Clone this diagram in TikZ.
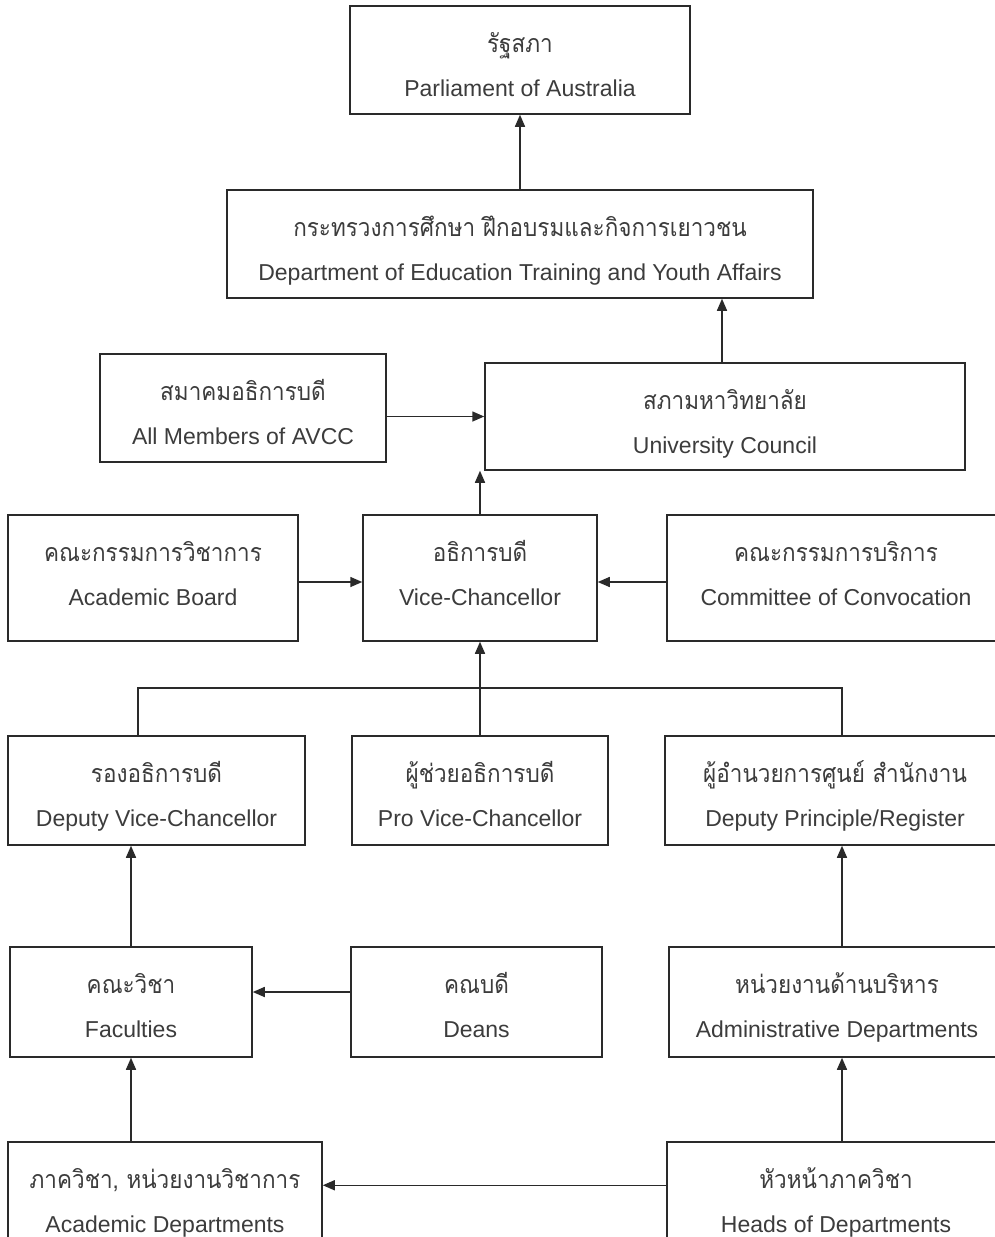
\documentclass[tikz,border=0pt]{standalone}
\usepackage{fontspec}
\setmainfont{Liberation Sans}
\newfontfamily\thaifont[Script=Thai,FakeStretch=0.9]{Loma}
\usetikzlibrary{arrows.meta,calc}
\definecolor{linegray}{HTML}{2A2A2A}
\definecolor{textgray}{HTML}{3C3C3C}

% box with a Thai title and an English title, placed from its corners
\newcommand\orgbox[7]{%
  \pgfmathsetmacro\obw{#4-#2}%
  \pgfmathsetmacro\obh{#5-#3}%
  \node[orgframe, minimum width=\obw pt, minimum height=\obh pt] (#1) at ({(#2+#4)/2},{(#3+#5)/2}) {};
  \node[thaitext] (#1-th) at ([yshift=-47pt]#1.north) {#6};
  \node[engtext] (#1-en) at ([yshift=-91pt]#1.north) {#7};
}

\begin{document}
\begin{tikzpicture}[x=1pt,y=-1pt,
  orgframe/.style={draw=linegray, line width=1.5pt, inner sep=0pt},
  thaitext/.style={anchor=base, inner sep=0pt, text=textgray, font=\thaifont\fontsize{25}{29}\selectfont},
  engtext/.style={anchor=base, inner sep=0pt, text=textgray, font=\fontsize{23}{27}\selectfont},
  link/.style={draw=linegray, line width=1.5pt},
  arr/.style={link, -{Triangle[length=12pt,width=10pt]}}]

\useasboundingbox (0,0) rectangle (995,1237);
\fill[white] (0,0) rectangle (995,1237);
\clip (0,0) rectangle (995,1237);

% top of the hierarchy
\orgbox{par}{350}{6}{690}{114}{รัฐสภา}{Parliament of Australia}
\orgbox{dept}{227}{190}{813}{298}{กระทรวงการศึกษา ฝึกอบรมและกิจการเยาวชน}{Department of Education Training and Youth Affairs}
\orgbox{avcc}{100}{354}{386}{462}{สมาคมอธิการบดี}{All Members of AVCC}
\orgbox{uc}{485}{363}{965}{470}{สภามหาวิทยาลัย}{University Council}

% university leadership
\orgbox{ab}{8}{515}{298}{641}{คณะกรรมการวิชาการ}{Academic Board}
\orgbox{vc}{363}{515}{597}{641}{อธิการบดี}{Vice-Chancellor}
\orgbox{com}{667}{515}{1005}{641}{คณะกรรมการบริการ}{Committee of Convocation}

\orgbox{dvc}{8}{736}{305}{845}{รองอธิการบดี}{Deputy Vice-Chancellor}
\orgbox{pvc}{352}{736}{608}{845}{ผู้ช่วยอธิการบดี}{Pro Vice-Chancellor}
\orgbox{dpr}{665}{736}{1005}{845}{ผู้อำนวยการศูนย์ สำนักงาน}{Deputy Principle/Register}

% faculties and departments
\orgbox{fac}{10}{947}{252}{1057}{คณะวิชา}{Faculties}
\orgbox{deans}{351}{947}{602}{1057}{คณบดี}{Deans}
\orgbox{adm}{669}{947}{1005}{1057}{หน่วยงานด้านบริหาร}{Administrative Departments}

\orgbox{ad}{8}{1142}{322}{1260}{ภาควิชา, หน่วยงานวิชาการ}{Academic Departments}
\orgbox{hd}{667}{1142}{1005}{1260}{หัวหน้าภาควิชา}{Heads of Departments}

% bus joining the three deputies
\coordinate (busL) at (138,688);
\coordinate (busR) at (842,688);

% connectors
\draw[arr] (dept.north) -- (par.south);
\draw[arr] ([xshift=-3pt]uc.north) -- ([xshift=-3pt]uc.north |- dept.south);
\draw[arr] (avcc.east |- uc.west) -- (uc.west);
\draw[arr] (vc.north) -- (vc.north |- uc.south);
\draw[arr] ([yshift=-4pt]ab.east) -- ([yshift=-4pt]vc.west);
\draw[arr] ([yshift=-4pt]com.west) -- ([yshift=-4pt]vc.east);
\draw[link] (dvc.north -| busL) -- (busL) -- (busR) -- (dpr.north -| busR);
\draw[arr] (pvc.north) -- (vc.south);
\draw[arr] (fac.north) -- (fac.north |- dvc.south);
\draw[arr] ([yshift=10pt]deans.west) -- ([yshift=10pt]deans.west -| fac.east);
\draw[arr] (adm.north -| busR) -- (dpr.south -| busR);
\draw[arr] (ad.north -| fac.south) -- (fac.south);
\draw[arr] (hd.north -| busR) -- (adm.south -| busR);
\draw[arr] ([yshift=-44pt]hd.north west) -- ([yshift=-44pt]hd.north west -| ad.east);
\end{tikzpicture}
\end{document}
